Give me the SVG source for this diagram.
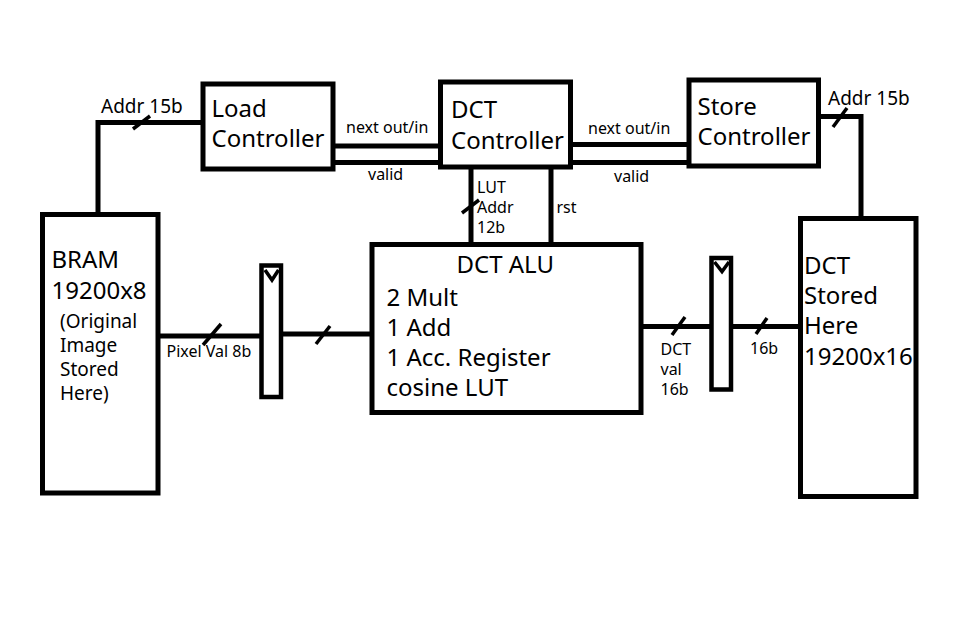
<svg xmlns="http://www.w3.org/2000/svg" width="971" height="635" viewBox="0 0 971 635">
<style>
.box{fill:#fff;stroke:#000;stroke-width:5}
.reg{fill:#fff;stroke:#000;stroke-width:4.5}
.w{fill:none;stroke:#000;stroke-width:5}
.s{fill:none;stroke:#000;stroke-width:3.5}
.clk{fill:none;stroke:#000;stroke-width:3.5}
text{font-family:"Noto Sans","Open Sans","DejaVu Sans",sans-serif;fill:#000}
.big{font-size:24px}
.mid{font-size:19px}
.sm{font-size:16px}
</style>
<rect width="971" height="635" fill="#fff"/>
<g id="connectors">
<path class="w" d="M98,214 V122.5 H203"/>
<path class="w" d="M333,146 H440.5"/>
<path class="w" d="M333,162.5 H440.5"/>
<path class="w" d="M570.5,144.5 H689"/>
<path class="w" d="M570.5,162.5 H689"/>
<path class="w" d="M818.5,116.5 H861 V218.5"/>
<path class="w" d="M471,167 V244.5"/>
<path class="w" d="M551,167 V244.5"/>
<path class="w" d="M158,336 H261.5"/>
<path class="w" d="M281,334 H372"/>
<path class="w" d="M641,326.5 H711.5"/>
<path class="w" d="M731,326.5 H800.5"/>
<path class="s" d="M133,129 L150,116"/>
<path class="s" d="M833,127 L847,108"/>
<path class="s" d="M462,213 L479,200"/>
<path class="s" d="M203,345 L221,324"/>
<path class="s" d="M316,344 L330,326"/>
<path class="s" d="M672,335 L685,317"/>
<path class="s" d="M756,334 L767,318"/>
<text class="mid" x="101" y="113">Addr 15b</text>
<text class="mid" x="828" y="105">Addr 15b</text>
<text class="sm" x="346" y="133">next out/in</text>
<text class="sm" x="368" y="180">valid</text>
<text class="sm" x="588" y="134">next out/in</text>
<text class="sm" x="614" y="181.5">valid</text>
<text class="sm" x="477" y="193">LUT</text>
<text class="sm" x="477" y="213">Addr</text>
<text class="sm" x="477" y="233">12b</text>
<text class="sm" x="556.5" y="213">rst</text>
<text class="sm" x="166.5" y="357">Pixel Val 8b</text>
<text class="sm" x="660.5" y="355">DCT</text>
<text class="sm" x="660.5" y="375">val</text>
<text class="sm" x="660.5" y="395">16b</text>
<text class="sm" x="750" y="354">16b</text>
</g>
<g id="load-controller">
<rect class="box" x="203" y="84" width="130" height="85"/>
<text class="big" x="211.5" y="117">Load</text>
<text class="big" x="211.5" y="147">Controller</text>
</g>
<g id="dct-controller">
<rect class="box" x="440.5" y="82" width="130" height="85"/>
<text class="big" x="451" y="118">DCT</text>
<text class="big" x="451" y="149">Controller</text>
</g>
<g id="store-controller">
<rect class="box" x="689" y="80" width="129.5" height="86"/>
<text class="big" x="697.5" y="114.5">Store</text>
<text class="big" x="697.5" y="144.5">Controller</text>
</g>
<g id="bram">
<rect class="box" x="42.5" y="214.5" width="115.5" height="278.5"/>
<text class="big" x="51.5" y="268">BRAM</text>
<text class="big" x="51.5" y="299">19200x8</text>
<text class="mid" x="60" y="327.5">(Original</text>
<text class="mid" x="60" y="351.5">Image</text>
<text class="mid" x="60" y="375.5">Stored</text>
<text class="mid" x="60" y="399.5">Here)</text>
</g>
<g id="reg-in">
<rect class="reg" x="261.5" y="265.5" width="19.5" height="131.5"/>
<path class="clk" d="M265,270 L272,280 L278.5,270"/>
</g>
<g id="dct-alu">
<rect class="box" x="372" y="244.5" width="269" height="168"/>
<text class="big" x="456.5" y="272.5">DCT ALU</text>
<text class="big" x="386.5" y="306">2 Mult</text>
<text class="big" x="386.5" y="336">1 Add</text>
<text class="big" x="386.5" y="366">1 Acc. Register</text>
<text class="big" x="386.5" y="396">cosine LUT</text>
</g>
<g id="reg-out">
<rect class="reg" x="711.5" y="258" width="19.5" height="131.5"/>
<path class="clk" d="M714.5,262 L722,271.5 L729,262"/>
</g>
<g id="dct-bram">
<rect class="box" x="800.5" y="218.5" width="115.5" height="278"/>
<text class="big" x="804" y="274">DCT</text>
<text class="big" x="804" y="304">Stored</text>
<text class="big" x="804" y="334">Here</text>
<text class="big" x="804" y="364.5">19200x16</text>
</g>
</svg>
